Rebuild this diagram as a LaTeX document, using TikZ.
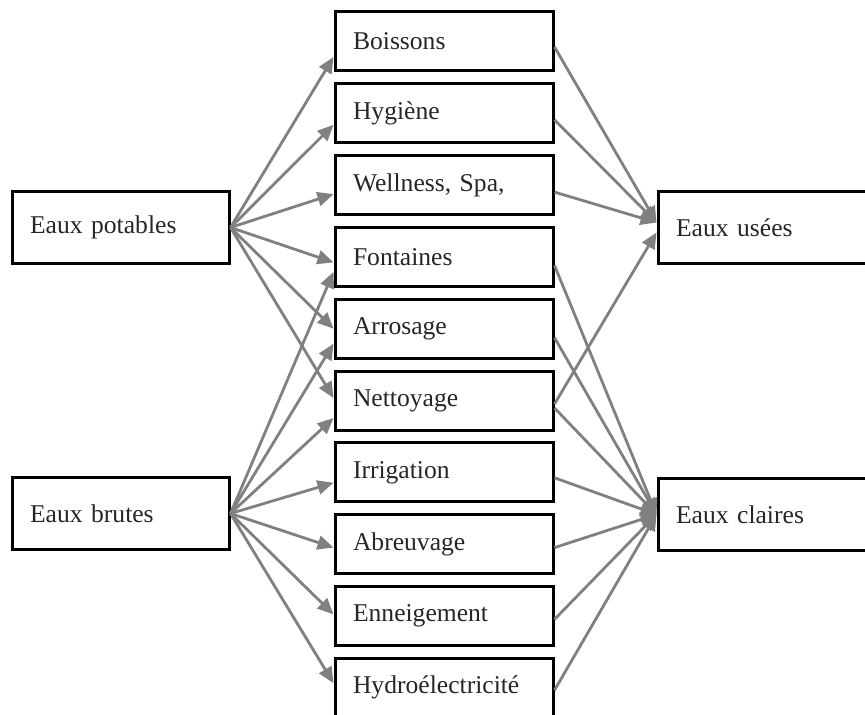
\documentclass[tikz,border=0pt]{standalone}
\usepackage{fontspec}
\setmainfont{Liberation Serif}
\usetikzlibrary{positioning, arrows.meta}
\tikzset{
  item/.style={draw=black, line width=1.5pt, text=black!85, inner xsep=9pt,
    text width=91pt, align=left, minimum height=29.5pt},
  water/.style={item, text width=90.5pt, minimum height=36pt},
  flow/.style={draw=gray, line width=1.4pt, -{Triangle[length=8pt,width=7pt]}}
}

\begin{document}
\begin{tikzpicture}[x=0.5pt, y=-0.5pt, node distance=35.9pt, on grid,
    font=\fontsize{12.8}{15}\selectfont]
  \clip (0,0) rectangle (865,715);

  % sources
  \node[water] (potables) at (120.5,227.5) {Eaux potables};
  \node[water] (brutes)   at (120.5,513.5) {Eaux brutes};

  % uses
  \node[item] (boissons) at (444,41.5) {Boissons};
  \node[item] (hygiene)     [below=of boissons]   {Hygiène};
  \node[item] (wellness)    [below=of hygiene]    {Wellness, Spa,};
  \node[item] (fontaines)   [below=of wellness]   {Fontaines};
  \node[item] (arrosage)    [below=of fontaines]  {Arrosage};
  \node[item] (nettoyage)   [below=of arrosage]   {Nettoyage};
  \node[item] (irrigation)  [below=of nettoyage]  {Irrigation};
  \node[item] (abreuvage)   [below=of irrigation] {Abreuvage};
  \node[item] (enneigement) [below=of abreuvage]  {Enneigement};
  \node[item] (hydro)       [below=of enneigement] {Hydroélectricité};

  % outlets
  \node[water] (usees)   at (766.5,227.5) {Eaux usées};
  \node[water] (claires) at (766.5,514.5) {Eaux claires};

  \path (potables.east)
    edge[flow] ([yshift=-7.75pt]boissons.west)
    edge[flow] ([yshift=-5.75pt]hygiene.west)
    edge[flow] ([yshift=-4.5pt]wellness.west)
    edge[flow] ([yshift=-2.75pt]fontaines.west)
    edge[flow] (arrosage.west)
    edge[flow] ([yshift=1.25pt]nettoyage.west);

  \path (brutes.east)
    edge[flow] ([yshift=-7.5pt]fontaines.west)
    edge[flow] ([yshift=-7.5pt]arrosage.west)
    edge[flow] ([yshift=-8.75pt]nettoyage.west)
    edge[flow] ([yshift=-5.25pt]irrigation.west)
    edge[flow] ([yshift=-1.75pt]abreuvage.west)
    edge[flow] ([yshift=0.75pt]enneigement.west)
    edge[flow] ([yshift=2.25pt]hydro.west);

  \draw[flow] ([yshift=-2.75pt]boissons.east) -- ([yshift=2.5pt]usees.west);
  \draw[flow] ([yshift=-3.25pt]hygiene.east) -- ([yshift=2.5pt]usees.west);
  \draw[flow] ([yshift=-3.5pt]wellness.east) -- ([yshift=2.5pt]usees.west);
  \draw[flow] ([yshift=-1.75pt]nettoyage.east) -- ([yshift=-2.5pt]usees.west);

  \draw[flow] ([yshift=-4.25pt]fontaines.east) -- (claires.west);
  \draw[flow] ([yshift=-4.5pt]arrosage.east) -- (claires.west);
  \draw[flow] ([yshift=-3.75pt]nettoyage.east) -- (claires.west);
  \draw[flow] ([yshift=-2.75pt]irrigation.east) -- (claires.west);
  \draw[flow] ([yshift=-1.75pt]abreuvage.east) -- (claires.west);
  \draw[flow] ([yshift=-1.75pt]enneigement.east) -- (claires.west);
  \draw[flow] ([yshift=-1.25pt]hydro.east) -- (claires.west);

\end{tikzpicture}
\end{document}
